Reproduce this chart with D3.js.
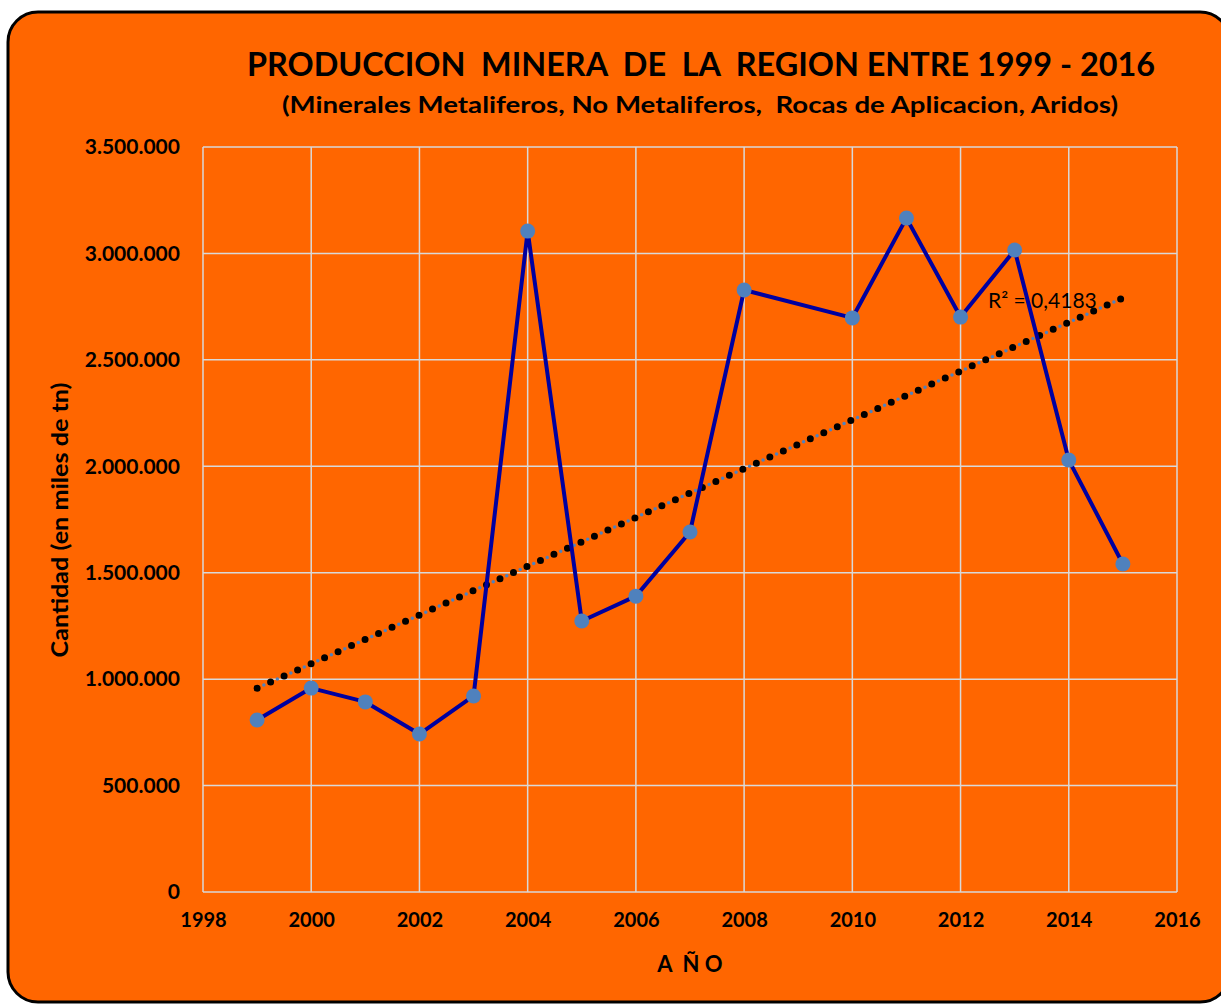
<!DOCTYPE html>
<html><head><meta charset="utf-8">
<script src="https://cdn.jsdelivr.net/npm/d3@7"></script>
<style>
html,body{margin:0;padding:0;background:#fff;}
svg{display:block;}
text{font-family:Lato,"Open Sans",sans-serif;}
</style></head>
<body>
<svg id="chart" width="1221" height="1004"></svg>
<script>
const years = [1999,2000,2001,2002,2003,2004,2005,2006,2007,2008,2010,2011,2012,2013,2014,2015];
const production = [808000,958000,893000,742000,921000,3105000,1273000,1390000,1691000,2828000,2697000,3166000,2701000,3016000,2029000,1541000];
const xTicks = [1998,2000,2002,2004,2006,2008,2010,2012,2014,2016];
const yTicks = [0,500000,1000000,1500000,2000000,2500000,3000000,3500000];
const title = "PRODUCCION  MINERA  DE  LA  REGION ENTRE 1999 - 2016";
const subtitle = "(Minerales Metaliferos, No Metaliferos,  Rocas de Aplicacion, Aridos)";
const xTitle = "A  Ñ O";
const yTitle = "Cantidad (en miles de tn)";
const r2Label = "R² = 0,4183";

const svg = d3.select("#chart");
const m = {left:203, right:1177, top:147, bottom:892};

svg.append("rect").attr("x",8).attr("y",12).attr("width",1222).attr("height",990)
  .attr("rx",30).attr("ry",30).attr("fill","#FF6600").attr("stroke","#000").attr("stroke-width",3);

const x = d3.scaleLinear().domain([1998,2016]).range([m.left,m.right]);
const y = d3.scaleLinear().domain([0,3500000]).range([m.bottom,m.top]);

const fmt = v => v===0 ? "0" : d3.format(",")(v).replace(/,/g,".");

// gridlines
const g = svg.append("g");
g.selectAll("line.h").data(yTicks).join("line")
  .attr("x1",m.left).attr("x2",m.right).attr("y1",d=>y(d)).attr("y2",d=>y(d))
  .attr("stroke","#D9D9D9").attr("stroke-width",1.5);
g.selectAll("line.v").data(xTicks).join("line")
  .attr("y1",m.top).attr("y2",m.bottom).attr("x1",d=>x(d)).attr("x2",d=>x(d))
  .attr("stroke","#D9D9D9").attr("stroke-width",1.5);

// axes
const yAxis = svg.append("g").attr("transform",`translate(${m.left},0)`)
  .call(d3.axisLeft(y).tickValues(yTicks).tickFormat(fmt).tickSize(0).tickPadding(23));
yAxis.select(".domain").remove();
yAxis.selectAll("text").attr("font-size",21).attr("font-weight","bold").attr("fill","#000")
  .style("font-family","Lato, sans-serif");

const xAxis = svg.append("g").attr("transform",`translate(0,${m.bottom})`)
  .call(d3.axisBottom(x).tickValues(xTicks).tickFormat(d3.format("d")).tickSize(0).tickPadding(21));
xAxis.select(".domain").remove();
xAxis.selectAll("text").attr("font-size",20).attr("font-weight","bold").attr("fill","#000")
  .style("font-family","Lato, sans-serif");

// titles
svg.append("text").attr("x",701).attr("y",76).attr("text-anchor","middle")
  .attr("font-size",32).attr("font-weight","bold").style("white-space","pre")
  .attr("textLength",908).attr("lengthAdjust","spacingAndGlyphs").text(title);
svg.append("text").attr("x",700).attr("y",113).attr("text-anchor","middle")
  .attr("font-size",23).attr("font-weight","bold").style("white-space","pre")
  .attr("textLength",836).attr("lengthAdjust","spacingAndGlyphs").text(subtitle);
svg.append("text").attr("x",690).attr("y",972).attr("text-anchor","middle")
  .attr("font-size",22).attr("font-weight","bold").style("white-space","pre").text(xTitle);
svg.append("text").attr("transform","translate(68,520) rotate(-90)").attr("text-anchor","middle")
  .attr("font-size",22).attr("font-weight","bold")
  .attr("textLength",275).attr("lengthAdjust","spacingAndGlyphs").text(yTitle);

// trendline (linear regression)
const n = years.length;
const mx = d3.mean(years), my = d3.mean(production);
let sxy=0,sxx=0;
years.forEach((yr,i)=>{sxy+=(yr-mx)*(production[i]-my); sxx+=(yr-mx)*(yr-mx);});
const slope = sxy/sxx, icpt = my - slope*mx;
const tx0 = years[0], tx1 = years[n-1];
const trend = [[tx0, icpt+slope*tx0],[tx1, icpt+slope*tx1]];
const tline = d3.line().x(d=>x(d[0])).y(d=>y(d[1]));
svg.append("path").attr("d",tline(trend)).attr("stroke","#4F81BD").attr("stroke-width",3.5)
  .attr("stroke-linecap","round").attr("stroke-dasharray","0 14.8").attr("stroke-dashoffset",-7.4).attr("fill","none");
svg.append("path").attr("d",tline(trend)).attr("stroke","#000").attr("stroke-width",7)
  .attr("stroke-linecap","round").attr("stroke-dasharray","0 14.8").attr("fill","none");

// series line
const line = d3.line().x((d,i)=>x(years[i])).y(d=>y(d));
svg.append("path").attr("d",line(production)).attr("fill","none").attr("stroke","#0000A0")
  .attr("stroke-width",4).attr("stroke-linejoin","round");
svg.selectAll("circle.pt").data(production).join("circle")
  .attr("cx",(d,i)=>x(years[i])).attr("cy",d=>y(d)).attr("r",7.5).attr("fill","#4F81BD");

// R2 label
svg.append("text").attr("x",988).attr("y",308).attr("font-size",21).attr("fill","#000").text(r2Label);
</script>
</body></html>
